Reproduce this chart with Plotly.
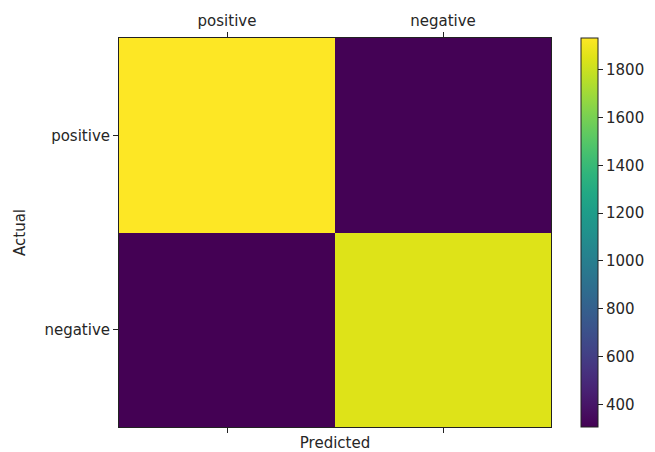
import plotly.graph_objects as go

# Confusion matrix counts (rows = actual, columns = predicted)
labels = ["positive", "negative"]
row_positive = [1933, 308]
row_negative = [305, 1850]
counts = [row_positive, row_negative]
cbar_ticks = [400, 600, 800, 1000, 1200, 1400, 1600, 1800]

# Viridis sampled at 21 evenly spaced points
viridis_hex = [
    "#440154", "#471365", "#482475", "#463480", "#414487", "#3b528b",
    "#355f8d", "#2f6c8e", "#2a788e", "#25848e", "#21918c", "#1e9c89",
    "#22a884", "#2fb47c", "#44bf70", "#5ec962", "#7ad151", "#9bd93c",
    "#bddf26", "#dfe318", "#fde725",
]
viridis = [[i / (len(viridis_hex) - 1), c] for i, c in enumerate(viridis_hex)]

font_family = "DejaVu Sans"
font_color = "#262626"
font_size = 15
edge = "#222222"

fig = go.Figure()

fig.add_trace(
    go.Heatmap(
        z=counts,
        x=[0, 1],
        y=[0, 1],
        colorscale=viridis,
        showscale=True,
        hoverinfo="z",
        colorbar=dict(
            x=1.069,
            xanchor="left",
            xref="paper",
            xpad=0,
            ypad=0,
            y=0.5,
            yanchor="middle",
            len=1.0,
            lenmode="fraction",
            thickness=17,
            outlinewidth=1,
            outlinecolor=edge,
            ticks="outside",
            ticklen=5,
            tickwidth=1,
            tickcolor=edge,
            tickvals=cbar_ticks,
            tickfont=dict(family=font_family, size=font_size, color=font_color),
        ),
    )
)

# Invisible helper trace so the bottom axis carries ticks and the title
fig.add_trace(
    go.Scatter(
        x=[0, 1], y=[0, 1], xaxis="x2", mode="markers",
        marker=dict(opacity=0), hoverinfo="skip", showlegend=False,
    )
)

axis_font = dict(family=font_family, size=font_size, color=font_color)

fig.update_layout(
    width=655,
    height=452,
    margin=dict(l=119, r=104, t=38, b=25, autoexpand=False),
    paper_bgcolor="white",
    plot_bgcolor="white",
    font=axis_font,
    xaxis=dict(
        side="top",
        range=[-0.5, 1.5],
        tickvals=[0, 1],
        ticktext=labels,
        ticks="outside",
        ticklen=5,
        tickwidth=1,
        tickcolor=edge,
        showgrid=False,
        zeroline=False,
        showline=True,
        linecolor=edge,
        linewidth=1,
        mirror=True,
        tickfont=axis_font,
    ),
    xaxis2=dict(
        overlaying="x",
        side="bottom",
        range=[-0.5, 1.5],
        tickvals=[0, 1],
        ticks="outside",
        ticklen=5,
        tickwidth=1,
        tickcolor=edge,
        showticklabels=False,
        showgrid=False,
        zeroline=False,
        title=dict(text="Predicted", standoff=8, font=axis_font),
    ),
    yaxis=dict(
        range=[1.5, -0.5],
        tickvals=[0, 1],
        ticktext=labels,
        ticks="outside",
        ticklen=5,
        tickwidth=1,
        tickcolor=edge,
        showgrid=False,
        zeroline=False,
        showline=True,
        linecolor=edge,
        linewidth=1,
        mirror=True,
        title=dict(text="Actual", standoff=15, font=axis_font),
        tickfont=axis_font,
    ),
)

fig.write_html("out.html")
